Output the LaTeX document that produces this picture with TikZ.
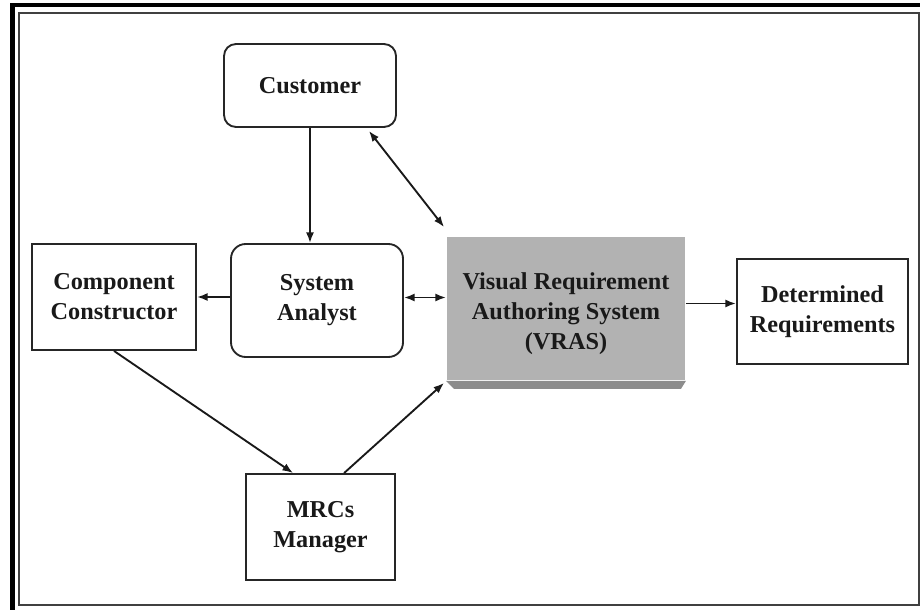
\documentclass[tikz,border=0pt]{standalone}
\usepackage{fontspec}
\setmainfont{Liberation Serif}
\usetikzlibrary{calc,arrows.meta}
\begin{document}
\begin{tikzpicture}[x=0.75pt,y=-0.75pt,
  box/.style={draw=black!85, line width=1.4pt, fill=white, align=center,
    inner sep=0pt, text=black!90,
    font=\bfseries\fontsize{18.2}{22.5}\selectfont},
  roundbox/.style={box, rounded corners=#1},
  shadedbox/.style={box, draw=none, fill=black!30},
  conn/.style={line width=1.4pt, black!90},
  tip/.style={conn, -{Latex[length=8pt,width=6pt]}},
  twotip/.style={conn, {Latex[length=8pt,width=6pt]}-{Latex[length=8pt,width=6pt]}}
]
% page and frame
\useasboundingbox (0,0) rectangle (920,610);
\fill[white] (0,0) rectangle (920,610);
\fill[black] (10,3) rectangle (920,7);
\fill[black] (10,3) rectangle (15,610);
\draw[line width=1.4pt, black!75] (19,13) rectangle (919,605);

% boxes
\node[roundbox=9pt, minimum width=129pt, minimum height=62.25pt] (cust) at (310,85.5) {Customer};
\node[roundbox=11pt, minimum width=129pt, minimum height=84.75pt] (sa) at (317,300.5) {System\\Analyst};
\node[box, minimum width=123pt, minimum height=79.5pt] (cc) at (114,297) {Component\\Constructor};
\node[box, minimum width=128.25pt, minimum height=78.75pt] (det) at (822.5,311.5) {Determined\\Requirements};
\node[box, minimum width=111.75pt, minimum height=79.5pt] (mrc) at (320.5,527) {MRCs\\Manager};

% the shaded VRAS block with its bevelled lower edge
\node[shadedbox, minimum width=178.5pt, minimum height=107.25pt] (vras) at (566,308.5) {};
\fill[black!45] (vras.south west) -- ($(vras.south west)+(8,8)$) -- ($(vras.south east)+(-5,8)$) -- (vras.south east) -- cycle;
\node[box, draw=none, fill=none] (vrastext) at ($(vras.center)+(0,5)$) {Visual Requirement\\Authoring System\\(VRAS)};

% connectors
\draw[tip] (cust) -- (cust |- sa.north);
\draw[twotip] ($(cust.south east)+(-28,3)$) -- ($(vras.north west)+(-2,-9)$);
\draw[tip] (sa.west |- cc.east) -- (cc.east);
\draw[twotip] ([yshift=2.25pt]sa.east) -- ([yshift=2.25pt]sa.east -| vras.west);
\draw[tip] ($(vras.east)+(0,-5)$) coordinate (vo) -- (vo -| det.west);
\draw[tip] (cc.south) -- ($(mrc.north west)+(48,0)$);
\draw[tip] ($(mrc.north west)+(99,0)$) -- ($(vras.south west)+(-2,2)$);
\end{tikzpicture}
\end{document}
